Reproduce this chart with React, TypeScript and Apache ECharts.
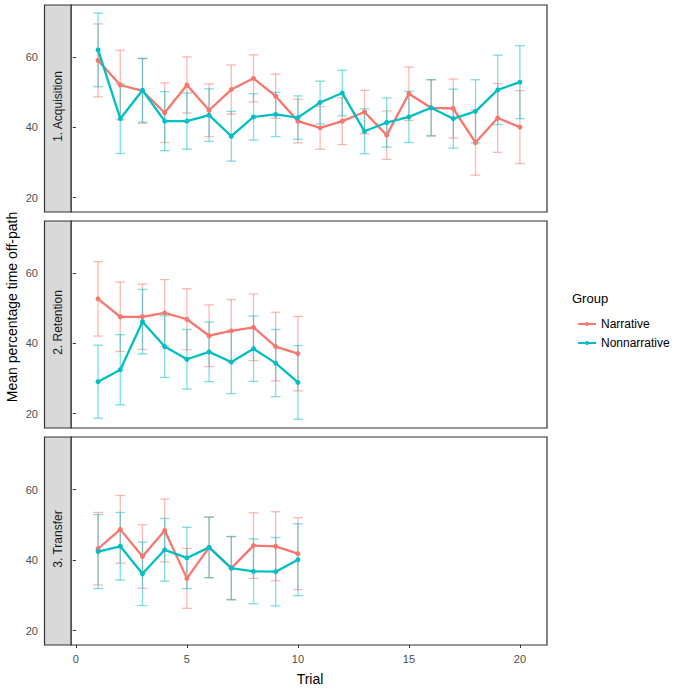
import React, { useEffect, useRef } from "react";
import * as echarts from "echarts";

// ---------- data ----------
const PANELS = ["1. Acquisition", "2. Retention", "3. Transfer"];
const GROUPS = ["Narrative", "Nonnarrative"];
const X_TICKS = [0, 5, 10, 15, 20];
const Y_TICKS = [20, 40, 60];

const trialsAcq = [1, 2, 3, 4, 5, 6, 7, 8, 9, 10, 11, 12, 13, 14, 15, 16, 17, 18, 19, 20];
const trialsShort = [1, 2, 3, 4, 5, 6, 7, 8, 9, 10];

// Acquisition
const acqNarrMean = [59.1, 52.1, 50.4, 44.2, 52.1, 44.9, 50.8, 54.0, 48.9, 41.8, 39.9, 41.8, 44.4, 37.8, 49.6, 45.6, 45.4, 35.7, 42.7, 40.1];
const acqNarrSE = [10.4, 9.9, 9.2, 8.5, 8.0, 7.5, 7.0, 6.7, 6.3, 6.2, 6.1, 6.7, 6.2, 6.9, 7.6, 8.0, 8.4, 9.3, 9.8, 10.4];
const acqNonMean = [62.1, 42.5, 50.6, 41.8, 41.8, 43.5, 37.5, 43.0, 43.7, 42.8, 47.1, 49.8, 38.9, 41.4, 43.0, 45.6, 42.5, 44.6, 50.7, 52.9];
const acqNonSE = [10.5, 9.9, 9.1, 8.4, 8.0, 7.5, 7.1, 6.6, 6.3, 6.2, 6.1, 6.5, 6.4, 7.0, 7.3, 8.0, 8.4, 9.0, 9.9, 10.4];

// Retention
const retNarrMean = [52.7, 47.6, 47.6, 48.7, 46.9, 42.2, 43.6, 44.6, 39.1, 37.1];
const retNarrSE = [10.6, 9.9, 9.3, 9.5, 8.7, 8.8, 8.9, 9.5, 9.8, 10.6];
const retNonMean = [29.1, 32.5, 46.2, 39.1, 35.5, 37.6, 34.7, 38.5, 34.4, 28.9];
const retNonSE = [10.4, 10.0, 9.2, 8.8, 8.5, 8.5, 9.0, 9.3, 9.6, 10.5];

// Transfer
const traNarrMean = [43.2, 48.7, 41.0, 48.4, 34.8, 43.6, 37.7, 44.1, 43.9, 41.8];
const traNarrSE = [10.3, 9.6, 9.0, 8.9, 8.5, 8.6, 8.9, 9.3, 9.8, 10.2];
const traNonMean = [42.4, 43.9, 36.1, 42.9, 40.6, 43.6, 37.7, 36.8, 36.7, 40.1];
const traNonSE = [10.5, 9.6, 9.0, 8.9, 8.7, 8.6, 9.0, 9.2, 9.7, 10.2];

const panelData = [
  { trials: trialsAcq, narr: acqNarrMean, narrSE: acqNarrSE, non: acqNonMean, nonSE: acqNonSE },
  { trials: trialsShort, narr: retNarrMean, narrSE: retNarrSE, non: retNonMean, nonSE: retNonSE },
  { trials: trialsShort, narr: traNarrMean, narrSE: traNarrSE, non: traNonMean, nonSE: traNonSE },
];

// ---------- layout / style ----------
const COLORS = ["#F8766D", "#00BFC4"];
const ERR_COLORS = ["rgba(248,118,109,0.5)", "rgba(0,191,196,0.5)"];
const GRID_LEFT = 71;
const GRID_RIGHT = 128;
const TOPS = [5, 221, 437];
const HEIGHTS = [207, 207, 208];
const FONT = "Liberation Sans, Arial, sans-serif";

export default function App() {
  const ref = useRef<HTMLDivElement>(null);

  useEffect(() => {
    if (!ref.current) return;
    const chart = echarts.init(ref.current, undefined, { renderer: "svg" });

    const grids: any[] = [];
    const xAxes: any[] = [];
    const yAxes: any[] = [];
    const lineSeries: any[] = [];
    const errSeries: any[] = [];
    const graphics: any[] = [];

    PANELS.forEach((label, i) => {
      grids.push({
        left: GRID_LEFT,
        right: GRID_RIGHT,
        top: TOPS[i],
        height: HEIGHTS[i],
        show: true,
        borderColor: "#333333",
        borderWidth: 1.2,
        backgroundColor: "#ffffff",
      });
      const isBottom = i === PANELS.length - 1;
      xAxes.push({
        type: "value",
        gridIndex: i,
        min: -0.22,
        max: 21.22,
        axisLine: { show: false },
        splitLine: { show: false },
        axisTick: {
          show: isBottom,
          customValues: X_TICKS,
          length: 3,
          lineStyle: { color: "#333333" },
        },
        axisLabel: {
          show: isBottom,
          customValues: X_TICKS,
          margin: 8,
          color: "#4D4D4D",
          fontSize: 11,
          fontFamily: FONT,
        },
      });
      yAxes.push({
        type: "value",
        gridIndex: i,
        min: 15.9,
        max: 74.9,
        offset: 27,
        axisLine: { show: false },
        splitLine: { show: false },
        axisTick: {
          show: true,
          customValues: Y_TICKS,
          length: 3,
          lineStyle: { color: "#333333" },
        },
        axisLabel: {
          customValues: Y_TICKS,
          margin: 6,
          color: "#4D4D4D",
          fontSize: 11,
          fontFamily: FONT,
        },
      });

      const pd = panelData[i];
      const means = [pd.narr, pd.non];
      const ses = [pd.narrSE, pd.nonSE];
      GROUPS.forEach((g, gi) => {
        errSeries.push({
          type: "custom",
          name: g + " SE " + i,
          xAxisIndex: i,
          yAxisIndex: i,
          z: 1,
          silent: true,
          data: pd.trials.map((t, k) => [t, means[gi][k] - ses[gi][k], means[gi][k] + ses[gi][k]]),
          renderItem: (params: any, api: any) => {
            const x = api.value(0);
            const lo = api.coord([x, api.value(1)]);
            const hi = api.coord([x, api.value(2)]);
            const hw = api.size([0.22, 0])[0];
            const style = { stroke: ERR_COLORS[gi], lineWidth: 1.3 };
            return {
              type: "group",
              children: [
                { type: "line", shape: { x1: lo[0], y1: lo[1], x2: hi[0], y2: hi[1] }, style },
                { type: "line", shape: { x1: lo[0] - hw, y1: lo[1], x2: lo[0] + hw, y2: lo[1] }, style },
                { type: "line", shape: { x1: hi[0] - hw, y1: hi[1], x2: hi[0] + hw, y2: hi[1] }, style },
              ],
            };
          },
        });
        lineSeries.push({
          type: "line",
          name: g,
          xAxisIndex: i,
          yAxisIndex: i,
          z: 3 + gi,
          data: pd.trials.map((t, k) => [t, means[gi][k]]),
          symbol: "circle",
          symbolSize: 5,
          itemStyle: { color: COLORS[gi] },
          lineStyle: { color: COLORS[gi], width: 2.3 },
        });
      });

      // strip
      graphics.push({
        type: "rect",
        shape: { x: 44.5, y: TOPS[i], width: GRID_LEFT - 44.5, height: HEIGHTS[i] },
        style: { fill: "#D9D9D9", stroke: "#333333", lineWidth: 1.2 },
        z: 10,
      });
      graphics.push({
        type: "text",
        x: 58,
        y: TOPS[i] + HEIGHTS[i] / 2 - 2,
        rotation: Math.PI / 2,
        style: {
          text: label,
          align: "center",
          verticalAlign: "middle",
          fill: "#1A1A1A",
          fontSize: 12,
          fontFamily: FONT,
        },
        z: 11,
      });
    });

    graphics.push({
      type: "text",
      x: 12,
      y: 307,
      rotation: Math.PI / 2,
      style: {
        text: "Mean percentage time off-path",
        align: "center",
        verticalAlign: "middle",
        fill: "#000000",
        fontSize: 14,
        fontFamily: FONT,
      },
    });
    graphics.push({
      type: "text",
      x: 310,
      y: 679,
      style: {
        text: "Trial",
        align: "center",
        verticalAlign: "middle",
        fill: "#000000",
        fontSize: 14,
        fontFamily: FONT,
      },
    });
    graphics.push({
      type: "text",
      x: 572,
      y: 298,
      style: {
        text: "Group",
        align: "left",
        verticalAlign: "middle",
        fill: "#000000",
        fontSize: 13,
        fontFamily: FONT,
      },
    });

    chart.setOption({
      animation: false,
      backgroundColor: "#ffffff",
      grid: grids,
      xAxis: xAxes,
      yAxis: yAxes,
      legend: {
        data: GROUPS,
        orient: "vertical",
        left: 572,
        top: 313,
        itemWidth: 18,
        itemHeight: 5,
        itemGap: 7,
        selectedMode: false,
        textStyle: { fontSize: 12, color: "#000000", fontFamily: FONT },
      },
      series: [...lineSeries, ...errSeries],
      graphic: graphics,
    });

    return () => chart.dispose();
  }, []);

  return <div ref={ref} style={{ width: 675, height: 689, position: "absolute", left: 0, top: 0 }} />;
}
